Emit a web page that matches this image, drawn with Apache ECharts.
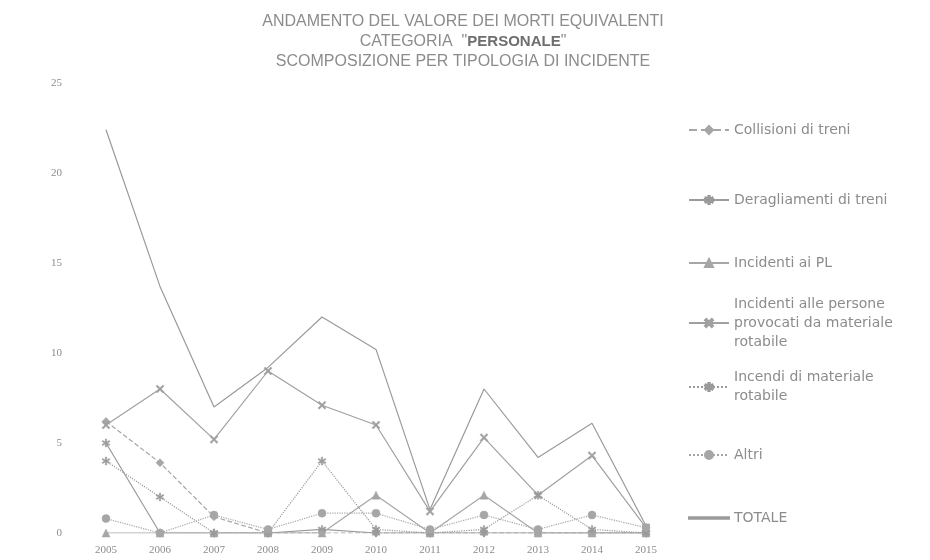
<!DOCTYPE html>
<html>
<head>
<meta charset="utf-8">
<script src="https://cdn.jsdelivr.net/npm/echarts@6/dist/echarts.min.js"></script>
<style>
  html, body { margin: 0; padding: 0; background: #fff; }
  #main { width: 930px; height: 560px; }
</style>
</head>
<body>
<div id="main"></div>
<script>
// dati
var anni = ['2005', '2006', '2007', '2008', '2009', '2010', '2011', '2012', '2013', '2014', '2015'];
var yMin = 0, yMax = 25, yPasso = 5;

var collisioni    = [6.2, 3.9, 0.9, 0, 0, 0, 0, 0, 0, 0, 0];
var deragliamenti = [5.0, 0, 0, 0, 0.2, 0, 0, 0, 0, 0, 0];
var incidentiPL   = [0, 0, 0, 0, 0, 2.1, 0, 2.1, 0, 0, 0];
var persone       = [6.0, 8.0, 5.2, 9.0, 7.1, 6.0, 1.2, 5.3, 2.1, 4.3, 0.3];
var incendi       = [4.0, 2.0, 0, 0, 4.0, 0.2, 0, 0.2, 2.1, 0.2, 0];
var altri         = [0.8, 0, 1.0, 0.2, 1.1, 1.1, 0.2, 1.0, 0.2, 1.0, 0.3];
var totale        = [22.4, 13.7, 7.0, 9.2, 12.0, 10.2, 1.3, 8.0, 4.2, 6.1, 0.4];

var nomi = [
    'Collisioni di treni',
    'Deragliamenti di treni',
    'Incidenti ai PL',
    'Incidenti alle persone\nprovocati da materiale\nrotabile',
    'Incendi di materiale\nrotabile',
    'Altri',
    'TOTALE'
];

var grigio = '#8c8c8c';
var simboloX = 'path://M0,1.5L1.5,0L5,3.5L8.5,0L10,1.5L6.5,5L10,8.5L8.5,10L5,6.5L1.5,10L0,8.5L3.5,5Z';
var asterisco = 'path://M4.2,0H5.8V3.6L8.9,1.8L9.7,3.2L6.6,5L9.7,6.8L8.9,8.2L5.8,6.4V10H4.2V6.4L1.1,8.2L0.3,6.8L3.4,5L0.3,3.2L1.1,1.8L4.2,3.6Z';

function serie (nome, dati, simbolo, colore, tipo) {
    return {
        name: nome,
        type: 'line',
        data: dati,
        symbol: simbolo,
        symbolSize: 8,
        showSymbol: simbolo !== 'none',
        lineStyle: { color: colore, width: 1.2, type: tipo },
        itemStyle: { color: colore, borderColor: colore, borderWidth: 0.5 },
        animation: false
    }
}

function legenda (nome, centro, righe, altezza) {
    altezza = altezza || 10
    var blocco = righe * 19 + (righe - 1) * 19
    return {
        data: [nome],
        left: 688,
        top: centro - blocco / 2,
        padding: 0,
        itemWidth: 40,
        itemHeight: altezza,
        textStyle: {
            color: grigio,
            fontSize: 14,
            fontFamily: 'DejaVu Sans',
            lineHeight: 19,
            padding: [(righe - 1) * 19, 0, 0, 0]
        }
    }
}

var legTotale = legenda(nomi[6], 518, 1, 1.5)
legTotale.icon = 'rect'

var myChart = echarts.init(document.getElementById('main'))
myChart.setOption({
    backgroundColor: '#fff',
    title: {
        text: 'ANDAMENTO DEL VALORE DEI MORTI EQUIVALENTI\nCATEGORIA  "{b|PERSONALE}"\nSCOMPOSIZIONE PER TIPOLOGIA DI INCIDENTE',
        left: 458,
        top: 7,
        textAlign: 'center',
        textStyle: {
            color: grigio,
            fontSize: 16,
            fontWeight: 'normal',
            fontFamily: 'Liberation Sans',
            lineHeight: 20,
            rich: {
                b: { color: '#6e6e6e', fontSize: 15, fontWeight: 'bold', fontFamily: 'Liberation Sans', lineHeight: 20 }
            }
        }
    },
    legend: [
        legenda(nomi[0], 130, 1),
        legenda(nomi[1], 200, 1),
        legenda(nomi[2], 263, 1),
        legenda(nomi[3], 323, 3),
        legenda(nomi[4], 387, 2),
        legenda(nomi[5], 455, 1),
        legTotale
    ],
    grid: {
        left: 79,
        top: 83,
        width: 594,
        height: 450
    },
    xAxis: {
        type: 'category',
        data: anni,
        boundaryGap: true,
        axisLine: { show: false },
        axisTick: { show: false },
        axisLabel: { color: grigio, fontSize: 11, fontFamily: 'Liberation Serif', margin: 12 }
    },
    yAxis: {
        type: 'value',
        min: yMin,
        max: yMax,
        interval: yPasso,
        axisLine: { show: false },
        axisTick: { show: false },
        splitLine: { show: false },
        axisLabel: { color: grigio, fontSize: 11, fontFamily: 'Liberation Serif', margin: 17 }
    },
    series: [
        serie(nomi[0], collisioni, 'diamond', '#a6a6a6', 'dashed'),
        serie(nomi[1], deragliamenti, asterisco, '#9a9a9a', 'solid'),
        serie(nomi[2], incidentiPL, 'triangle', '#a6a6a6', 'solid'),
        serie(nomi[3], persone, simboloX, '#a0a0a0', 'solid'),
        serie(nomi[4], incendi, asterisco, '#9a9a9a', 'dotted'),
        serie(nomi[5], altri, 'circle', '#a6a6a6', 'dotted'),
        serie(nomi[6], totale, 'none', '#9a9a9a', 'solid')
    ]
})
</script>
</body>
</html>
